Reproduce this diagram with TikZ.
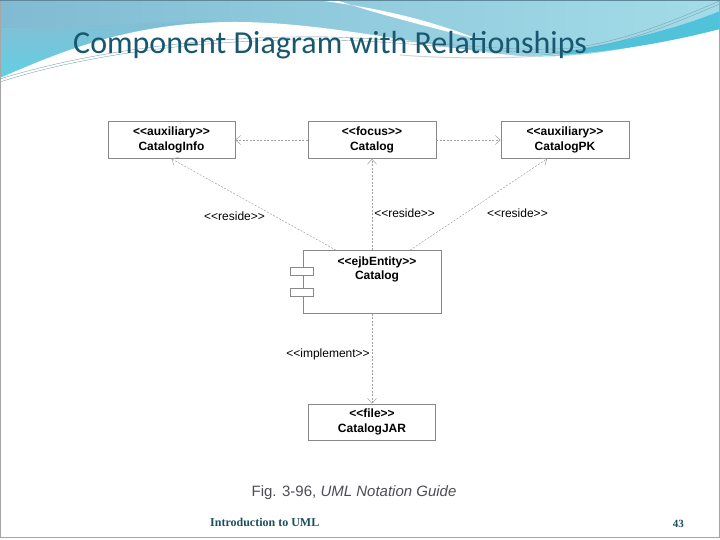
\documentclass[tikz,border=0pt]{standalone}
\usepackage{fontspec}
\setmainfont{Liberation Sans}[Ligatures=TeXOff]
\newfontfamily\titlefont{Carlito}
\newfontfamily\footfont{Liberation Serif}[Ligatures=TeXOff]
\usepackage{tikz}
\usetikzlibrary{arrows.meta,positioning}
\definecolor{bandleft}{HTML}{80BBD3}
\definecolor{bandright}{HTML}{A3DCE8}
\definecolor{bandcyan}{HTML}{5CD2E4}
\definecolor{bandcyanr}{HTML}{50C2DA}
\definecolor{titleblue}{HTML}{17576F}
\definecolor{footteal}{HTML}{1B4F5C}
\definecolor{capgray}{HTML}{4D4D55}
\definecolor{boxgray}{HTML}{888888}
\definecolor{linegray}{HTML}{A0A0A0}
\tikzstyle{bold} = [font=\bfseries\fontsize{12}{14.5}\selectfont]
\tikzstyle{block} = [rectangle, draw=boxgray, line width=0.6pt, fill=white, bold, align=center, minimum width=128pt, minimum height=37pt, inner sep=2pt]
\tikzstyle{port} = [rectangle, draw=boxgray, line width=0.6pt, fill=white, minimum width=23pt, minimum height=8pt, inner sep=0pt]
\tikzstyle{dep} = [draw=linegray, line width=0.5pt, dash pattern=on 2pt off 1.5pt, -{Straight Barb[length=5pt,width=9pt]}]
\tikzstyle{tag} = [font=\fontsize{12}{14}\selectfont, inner sep=2pt]
\tikzstyle{wire} = [draw=titleblue!55, line width=0.4pt]

\begin{document}
\begin{tikzpicture}[x=1pt, y=1pt]
\useasboundingbox (0,0) rectangle (720,540);
% slide background, drawn from the top down
\begin{scope}[yshift=540pt, y=-1pt]
\fill[white] (0,0) rectangle (720,540);
\shade[left color=bandleft, right color=bandright] (0,0) rectangle (720,95);
\shade[top color=bandleft!90!bandright, bottom color=bandcyan] (0,28) .. controls (70,28) and (150,22) .. (215,20) -- (215,30) -- (0,86) -- cycle;
\fill[white] (316,0) .. controls (380,8) and (430,20) .. (480,40) .. controls (430,27) and (380,15) .. (336,0) -- cycle;
\fill[white] (0,78) .. controls (60,52) and (130,22) .. (235,22) .. controls (330,22) and (430,48) .. (520,56) .. controls (600,60) and (660,40) .. (720,28) -- (720,100) -- (0,100) -- cycle;
\fill[bandcyanr] (540,55) .. controls (610,46) and (680,28) .. (720,11) -- (720,29) .. controls (670,42) and (610,53) .. (540,56) -- cycle;
\draw[wire] (0,82) .. controls (80,56) and (200,38) .. (330,40) .. controls (430,42) and (520,58) .. (580,50) .. controls (640,40) and (690,16) .. (720,4);
\draw[wire] (0,79) .. controls (80,54) and (200,35) .. (330,37) .. controls (430,40) and (520,55) .. (580,47) .. controls (640,37) and (690,13) .. (720,1);
\draw[gray!35, line width=1pt] (400,55) .. controls (450,59) and (520,59) .. (560,54);
\draw[gray!70] (0.5,0.5) rectangle (719.5,537.5);
\draw[titleblue!70] (0,0.5) -- (720,0.5);
\end{scope}

\node[anchor=base west, inner sep=0pt, font=\titlefont\fontsize{32}{38}\selectfont, text=titleblue] (title) at (73,486) {Component Diagram with Relationships};

\node[block] (focus) at (372,400) {<<focus>>\\Catalog};
\node[block, node distance=200.5pt, left of=focus, minimum width=127pt] (info) {<<auxiliary>>\\CatalogInfo};
\node[block, node distance=193pt, right of=focus] (pk) {<<auxiliary>>\\CatalogPK};
\node[block, node distance=142pt, below of=focus, minimum width=138pt, minimum height=63pt,
  label={[bold, align=center, anchor=north, yshift=-3pt, xshift=5pt]north:{<<ejbEntity>>\\Catalog}}] (entity) {};
\node[port] (port1) at ([xshift=-0.5pt, yshift=10.5pt]entity.west) {};
\node[port] (port2) at ([xshift=-0.5pt, yshift=-10.5pt]entity.west) {};
\node[block, node distance=140pt, below of=entity, minimum width=127pt, minimum height=36pt] (jar) {<<file>>\\CatalogJAR};

\path[dep] (focus) -- (info);
\path[dep] (focus) -- (pk);
\path[dep] ([xshift=-36pt]entity.north) -- node[tag, pos=0.37, left, xshift=-8pt] {<<reside>>} (info.south);
\path[dep] (entity.north) -- node[tag, pos=0.4, right] {<<reside>>} (focus.south);
\path[dep] ([xshift=38pt]entity.north) -- node[tag, pos=0.4, right, xshift=20pt] {<<reside>>} ([xshift=-18pt]pk.south);
\path[dep] (entity.south) -- node[tag, pos=0.45, left] {<<implement>>} (jar.north);

\node[font=\fontsize{15}{18}\selectfont, text=capgray] (caption) at (354,47.3) {Fig. 3-96, \textit{UML Notation Guide}};
\node[anchor=west, inner sep=0pt, font=\footfont\bfseries\fontsize{12}{14}\selectfont, text=footteal] (footer) at (210,17.3) {Introduction to UML};
\node[font=\footfont\bfseries\fontsize{11}{13}\selectfont, text=footteal] (page) at (678.3,16) {43};
\end{tikzpicture}
\end{document}
